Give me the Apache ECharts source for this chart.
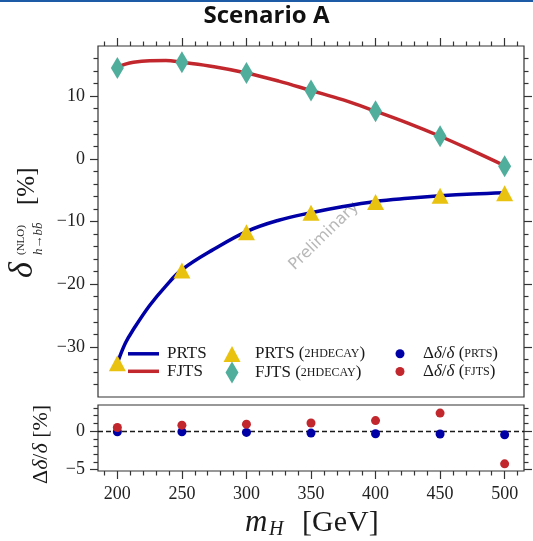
<!DOCTYPE html>
<html>
<head>
<meta charset="utf-8">
<script src="https://cdn.jsdelivr.net/npm/echarts@6/dist/echarts.min.js"></script>
<style>
  html, body { margin: 0; padding: 0; background: #fff; }
  #chart { width: 533px; height: 541px; }
</style>
</head>
<body>
<div id="chart"></div>
<script>
// Benchmark masses with 2HDECAY points
const massPoints = [200, 250, 300, 350, 400, 450, 500];
const prts2hdecay = [-32.6, -17.8, -11.7, -8.6, -6.9, -5.9, -5.5];
const fjts2hdecay = [14.5, 15.4, 13.7, 10.9, 7.6, 3.6, -1.2];

// Full calculation curves on a finer mass grid
const curveMass = [200, 206.25, 212.5, 225, 237.5, 250, 275, 300, 325, 350, 375, 400, 425, 450, 475, 500];
const prtsCurve = [-32.6, -29.4, -27.2, -23.4, -20.3, -17.7, -14.4, -11.6, -9.8, -8.6, -7.6, -6.8, -6.3, -5.9, -5.6, -5.4];
const fjtsCurve = [14.6, 15.1, 15.4, 15.65, 15.7, 15.4, 14.7, 13.7, 12.4, 10.9, 9.4, 7.6, 5.7, 3.6, 1.3, -1.1];

// Relative deviation Δδ/δ in percent
const relDevPrts = [-0.09, -0.09, -0.17, -0.26, -0.34, -0.38, -0.47];
const relDevFjts = [0.47, 0.77, 0.9, 1.06, 1.37, 2.35, -4.27];

// Tick values
const xMajorTicks = [200, 250, 300, 350, 400, 450, 500];
const xMinorTicks = [190, 210, 220, 230, 240, 260, 270, 280, 290, 310, 320, 330, 340,
                     360, 370, 380, 390, 410, 420, 430, 440, 460, 470, 480, 490, 510];
const topMajorTicks = [-30, -20, -10, 0, 10];
const topMinorTicks = [-36, -34, -32, -28, -26, -24, -22, -18, -16, -14, -12, -8, -6, -4, -2,
                       2, 4, 6, 8, 12, 14, 16];
const bottomMajorTicks = [-5, 0];
const bottomMinorTicks = [-4, -3, -2, -1, 1, 2, 3];

const X_RANGE = [185, 515];
const TOP_RANGE = [-38, 18];
const BOTTOM_RANGE = [-5.2, 3.4];

const BLUE = '#0000a7';
const RED = '#c1272d';
const YELLOW = '#e9c20f';
const TEAL = '#50ae9c';
const INK = '#1a1a1a';
const FRAME = '#333';
const SERIF = 'Liberation Serif';

const pairs = (xs, ys) => xs.map((x, i) => [x, ys[i]]);
const minusFmt = v => (v < 0 ? '\u2212' + Math.abs(v) : String(v));

function tickAxis(gridIndex, position, range, ticks, tickLen, labelMargin) {
  const withLabels = labelMargin != null;
  return {
    type: 'value', gridIndex, position, min: range[0], max: range[1],
    axisLine: { show: false, onZero: false },
    splitLine: { show: false },
    axisTick: {
      show: true, inside: false, length: tickLen, customValues: ticks,
      lineStyle: { color: FRAME, width: 1.2 }
    },
    axisLabel: withLabels ? {
      show: true, customValues: ticks, margin: labelMargin, formatter: minusFmt,
      fontFamily: SERIF, fontSize: 18, color: '#222'
    } : { show: false }
  };
}

const richBase = {
  n: { fontFamily: SERIF, fontSize: 17, color: INK, lineHeight: 18 },
  i: { fontFamily: SERIF, fontStyle: 'italic', fontSize: 17, color: INK, lineHeight: 18 },
  s: { fontFamily: SERIF, fontSize: 12, color: INK, lineHeight: 18 }
};

function legendItem(name, left, top, icon, w, h, pad, label) {
  return {
    data: [name], left, top, orient: 'vertical', padding: 0,
    icon, itemWidth: w, itemHeight: h, symbolKeepAspect: false,
    selectedMode: false,
    formatter: () => '{p| }' + label,
    textStyle: { rich: Object.assign({ p: { width: pad, fontSize: 17, lineHeight: 18 } }, richBase) }
  };
}

const chart = echarts.init(document.getElementById('chart'), null, { renderer: 'canvas' });

chart.setOption({
  animation: false,
  backgroundColor: '#fff',
  title: {
    text: 'Scenario A', left: 'center', top: 4, padding: 0,
    textStyle: { fontFamily: 'Open Sans', fontWeight: 700, fontSize: 24, color: '#111' }
  },
  grid: [
    { left: 98, right: 9, top: 46, height: 351, show: true, borderColor: FRAME, borderWidth: 1.2, outerBoundsMode: 'none' },
    { left: 98, right: 9, top: 405, height: 66, show: true, borderColor: FRAME, borderWidth: 1.2, outerBoundsMode: 'none' }
  ],
  xAxis: [
    tickAxis(0, 'top', X_RANGE, xMajorTicks, 8, null),
    tickAxis(0, 'top', X_RANGE, xMinorTicks, 4.5, null),
    tickAxis(1, 'bottom', X_RANGE, xMajorTicks, 8, 14),
    tickAxis(1, 'bottom', X_RANGE, xMinorTicks, 4.5, null)
  ],
  yAxis: [
    tickAxis(0, 'left', TOP_RANGE, topMajorTicks, 8, 13),
    tickAxis(0, 'left', TOP_RANGE, topMinorTicks, 4.5, null),
    tickAxis(0, 'right', TOP_RANGE, topMajorTicks, 8, null),
    tickAxis(0, 'right', TOP_RANGE, topMinorTicks, 4.5, null),
    tickAxis(1, 'left', BOTTOM_RANGE, bottomMajorTicks, 8, 13),
    tickAxis(1, 'left', BOTTOM_RANGE, bottomMinorTicks, 4.5, null),
    tickAxis(1, 'right', BOTTOM_RANGE, bottomMajorTicks, 8, null),
    tickAxis(1, 'right', BOTTOM_RANGE, bottomMinorTicks, 4.5, null)
  ],
  legend: [
    legendItem('PRTS', 128, 345.3, 'rect', 31, 3.5, 3, '{n|PRTS}'),
    legendItem('FJTS', 128, 362.8, 'rect', 31, 3.5, 3, '{n|FJTS}'),
    legendItem('PRTS (2HDECAY)', 223.5, 345.5, 'triangle', 17, 16, 9.5, '{n|PRTS (}{s|2HDECAY}{n|)}'),
    legendItem('FJTS (2HDECAY)', 225.5, 361.5, 'diamond', 13, 22, 11.5, '{n|FJTS (}{s|2HDECAY}{n|)}'),
    legendItem('\u0394\u03b4/\u03b4 (PRTS)', 395.5, 345.3, 'circle', 9, 9, 13.5, '{n|\u0394}{i|\u03b4}{n|/}{i|\u03b4}{n| (}{s|PRTS}{n|)}'),
    legendItem('\u0394\u03b4/\u03b4 (FJTS)', 395.5, 363, 'circle', 9, 9, 13.5, '{n|\u0394}{i|\u03b4}{n|/}{i|\u03b4}{n| (}{s|FJTS}{n|)}')
  ],
  series: [
    {
      name: 'FJTS', type: 'line', xAxisIndex: 0, yAxisIndex: 0, z: 2,
      data: pairs(curveMass, fjtsCurve), smooth: 0.4, symbol: 'none',
      color: RED, lineStyle: { color: RED, width: 3.5 }
    },
    {
      name: 'PRTS', type: 'line', xAxisIndex: 0, yAxisIndex: 0, z: 2,
      data: pairs(curveMass, prtsCurve), smooth: 0.4, symbol: 'none',
      color: BLUE, lineStyle: { color: BLUE, width: 3.5 }
    },
    {
      name: 'PRTS (2HDECAY)', type: 'scatter', xAxisIndex: 0, yAxisIndex: 0, z: 3,
      data: pairs(massPoints, prts2hdecay), symbol: 'triangle', symbolSize: [17, 16],
      itemStyle: { color: YELLOW, opacity: 1 }
    },
    {
      name: 'FJTS (2HDECAY)', type: 'scatter', xAxisIndex: 0, yAxisIndex: 0, z: 3,
      data: pairs(massPoints, fjts2hdecay), symbol: 'diamond', symbolSize: [13, 22],
      itemStyle: { color: TEAL, opacity: 1 }
    },
    {
      name: '\u0394\u03b4/\u03b4 (PRTS)', type: 'scatter', xAxisIndex: 2, yAxisIndex: 4, z: 3,
      data: pairs(massPoints, relDevPrts), symbol: 'circle', symbolSize: 9,
      itemStyle: { color: BLUE, opacity: 1 },
      markLine: {
        silent: true, symbol: 'none', label: { show: false }, z: 1,
        lineStyle: { color: INK, type: [5, 3], width: 1.3 },
        data: [{ yAxis: 0 }]
      }
    },
    {
      name: '\u0394\u03b4/\u03b4 (FJTS)', type: 'scatter', xAxisIndex: 2, yAxisIndex: 4, z: 3,
      data: pairs(massPoints, relDevFjts), symbol: 'circle', symbolSize: 9,
      itemStyle: { color: RED, opacity: 1 }
    }
  ],
  graphic: [
    // header rule
    { type: 'rect', left: 0, top: 0, shape: { width: 533, height: 2 }, style: { fill: '#1d5ba6' }, silent: true },
    // watermark
    {
      type: 'text', x: 324, y: 236, rotation: 0.77, silent: true, z: 1,
      style: { text: 'Preliminary', font: '16px "DejaVu Sans"', fill: '#b8b8b8', align: 'center', verticalAlign: 'middle' }
    },
    // y-axis title, upper panel
    {
      type: 'group', x: 28, y: 281, rotation: Math.PI / 2, silent: true,
      children: [
        { type: 'text', x: 3, y: -5, style: { text: '\u03b4', font: 'italic 34px "Liberation Serif"', fill: INK, align: 'left', verticalAlign: 'middle' } },
        { type: 'text', x: 26, y: -7, style: { text: '(NLO)', font: '11px "Liberation Serif"', fill: INK, align: 'left', verticalAlign: 'middle' } },
        { type: 'text', x: 26, y: 11, style: { text: 'h\u2192bb\u0304', font: 'italic 13px "Liberation Serif"', fill: INK, align: 'left', verticalAlign: 'middle' } },
        { type: 'text', x: 76, y: -1, style: { text: '[%]', font: '25px "Liberation Serif"', fill: INK, align: 'left', verticalAlign: 'middle' } }
      ]
    },
    // y-axis title, lower panel
    {
      type: 'group', x: 41, y: 484, rotation: Math.PI / 2, silent: true,
      children: [
        {
          type: 'text', x: 0, y: 0,
          style: {
            text: '{n|\u0394}{i|\u03b4}{n|/}{i|\u03b4}{n| [%]}', align: 'left', verticalAlign: 'middle', fill: INK,
            rich: {
              n: { fontFamily: SERIF, fontSize: 22, fill: INK },
              i: { fontFamily: SERIF, fontStyle: 'italic', fontSize: 22, fill: INK }
            }
          }
        }
      ]
    },
    // x-axis title
    { type: 'text', x: 245, y: 522.8, silent: true, style: { text: 'm', font: 'italic 31px "Liberation Serif"', fill: INK, align: 'left', verticalAlign: 'middle' } },
    { type: 'text', x: 269, y: 530, silent: true, style: { text: 'H', font: 'italic 20px "Liberation Serif"', fill: INK, align: 'left', verticalAlign: 'middle' } },
    { type: 'text', x: 302, y: 522.8, silent: true, style: { text: '[GeV]', font: '30px "Liberation Serif"', fill: INK, align: 'left', verticalAlign: 'middle' } }
  ]
});
</script>
</body>
</html>
